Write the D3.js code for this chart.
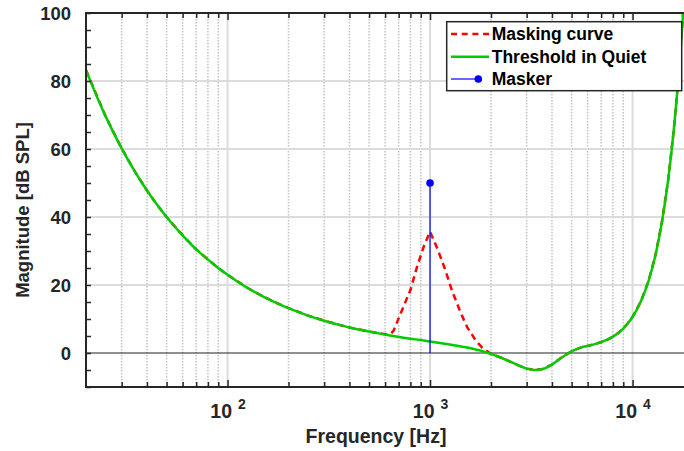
<!DOCTYPE html>
<html>
<head>
<meta charset="utf-8">
<script src="https://cdn.jsdelivr.net/npm/d3@7"></script>
<style>
  html, body { margin: 0; padding: 0; background: #fff; }
  svg { display: block; font-family: "Liberation Sans", Arial, Helvetica, sans-serif; font-weight: bold; }
</style>
</head>
<body>
<svg id="chart" width="684" height="451"></svg>
<script>
// ---- data ----
const freqHz = [20,25,30,35,40,45,50,60,70,80,90,100,125,150,175,200,250,300,350,400,500,600,700,800,900,1000,1250,1500,1750,2000,2250,2500,2750,3000,3300,3600,4000,4500,5000,5500,6000,6500,7000,7500,8000,8500,9000,9500,10000,11000,12000,13000,14000,15000,16000,16500,17000,17500,18000,18500];
const thresholdDb = [83.2,69.6,60.2,53.2,47.8,43.5,40.0,34.6,30.5,27.5,25.0,23.0,19.2,16.6,14.7,13.2,11.0,9.5,8.4,7.5,6.3,5.4,4.7,4.2,3.8,3.4,2.5,1.7,0.8,-0.3,-1.4,-2.6,-3.7,-4.6,-5.0,-4.7,-3.4,-1.2,0.5,1.5,2.1,2.6,3.2,3.9,4.8,5.9,7.2,8.8,10.6,15.2,21.2,29.0,38.9,51.0,65.9,74.5,83.9,94.2,105.3,117.1];

const maskFreqHz = [20,25,30,35,40,45,50,60,70,80,90,100,125,150,175,200,250,300,350,400,500,600,640,661,727,800,863,937,1000,1090,1190,1284,1411,1523,1674,1806,1950,2000,2250,2500,2750,3000,3300,3600,4000,4500,5000,5500,6000,6500,7000,7500,8000,8500,9000,9500,10000,11000,12000,13000,14000,15000,16000,16500,17000,17500,18000,18500];
const maskDb = [83.2,69.6,60.2,53.2,47.8,43.5,40.0,34.6,30.5,27.5,25.0,23.0,19.2,16.6,14.7,13.2,11.0,9.5,8.4,7.5,6.3,5.5,5.6,6.6,12.6,18.5,25.4,31.8,35.7,30.5,24.4,18.3,12.1,7.7,3.8,1.6,0.2,-0.3,-1.4,-2.6,-3.7,-4.6,-5.0,-4.7,-3.4,-1.2,0.5,1.5,2.1,2.6,3.2,3.9,4.8,5.9,7.2,8.8,10.6,15.2,21.2,29.0,38.9,51.0,65.9,74.5,83.9,94.2,105.3,117.1];

const maskerFreqHz = [1000];
const maskerDb = [50];

const xMajorTicks = [100, 1000, 10000];
const xMajorExponents = ["2", "3", "4"];
const xMinorTicks = [30,40,50,60,70,80,90,200,300,400,500,600,700,800,900,2000,3000,4000,5000,6000,7000,8000,9000];
const yLabelTicks = [0, 20, 40, 60, 80, 100];
const yGridTicks = [20, 40, 60, 80];
const yMinorTicks = [-10,-5,0,5,10,15,20,25,30,35,40,45,50,55,60,65,70,75,80,85,90,95,100];

const legendLabels = ["Masking curve", "Threshold in Quiet", "Masker"];

// ---- layout ----
const W = 684, H = 451;
const L = 86, R = 693.5, T = 13, B = 387;
const axisColor = "#262626";
const cRed = "#ff0000", cGreen = "#00cc00", cBlue = "#0000ff";

const svg = d3.select("#chart");
svg.append("rect").attr("width", W).attr("height", H).attr("fill", "#fff");

const x = d3.scaleLog().domain([20, 20000]).range([L, R]);
const y = d3.scaleLinear().domain([-10, 100]).range([B, T]);

svg.append("defs").append("clipPath").attr("id", "clip")
  .append("rect").attr("x", L).attr("y", T).attr("width", R - L).attr("height", B - T);

// ---- grid ----
const grid = svg.append("g");
grid.selectAll("line.minx").data(xMinorTicks).join("line")
  .attr("x1", d => x(d)).attr("x2", d => x(d)).attr("y1", T).attr("y2", B)
  .attr("stroke", "#c2c2c2").attr("stroke-width", 1.5).attr("stroke-dasharray", "1.5,1.5");
grid.selectAll("line.majx").data(xMajorTicks).join("line")
  .attr("x1", d => x(d)).attr("x2", d => x(d)).attr("y1", T).attr("y2", B)
  .attr("stroke", "#dcdcdc").attr("stroke-width", 2);
grid.selectAll("line.majy").data(yGridTicks).join("line")
  .attr("x1", L).attr("x2", R).attr("y1", d => y(d)).attr("y2", d => y(d))
  .attr("stroke", "#dcdcdc").attr("stroke-width", 2);

// zero line
svg.append("line").attr("x1", L).attr("x2", R).attr("y1", y(0)).attr("y2", y(0))
  .attr("stroke", "#222").attr("stroke-width", 1.2);

// ---- data lines ----
const plot = svg.append("g").attr("clip-path", "url(#clip)");

const maskLine = d3.line().x(d => x(d[0])).y(d => y(d[1])).curve(d3.curveLinear);
plot.append("path")
  .datum(maskFreqHz.map((f, i) => [f, maskDb[i]]))
  .attr("d", maskLine).attr("fill", "none").attr("stroke", cRed)
  .attr("stroke-width", 2.5).attr("stroke-dasharray", "6.5,4.5");

const thLine = d3.line().x(d => x(d[0])).y(d => y(d[1])).curve(d3.curveMonotoneX);
plot.append("path")
  .datum(freqHz.map((f, i) => [f, thresholdDb[i]]))
  .attr("d", thLine).attr("fill", "none").attr("stroke", cGreen)
  .attr("stroke-width", 2.5);

const masker = maskerFreqHz.map((f, i) => [f, maskerDb[i]]);
plot.selectAll("line.stem").data(masker).join("line")
  .attr("x1", d => x(d[0])).attr("x2", d => x(d[0]))
  .attr("y1", y(0)).attr("y2", d => y(d[1]))
  .attr("stroke", cBlue).attr("stroke-width", 1.2);
plot.selectAll("circle.mk").data(masker).join("circle")
  .attr("cx", d => x(d[0])).attr("cy", d => y(d[1])).attr("r", 3.8)
  .attr("fill", cBlue);

// ---- axes ----
function styleAxis(g) {
  g.select(".domain").remove();
  g.selectAll(".tick line").attr("stroke", axisColor).attr("stroke-width", 1.5);
}
svg.append("g").attr("transform", `translate(0,${B})`)
  .call(d3.axisBottom(x).tickValues(xMinorTicks).tickSizeInner(-5).tickSizeOuter(0).tickFormat(""))
  .call(styleAxis);
const gxMaj = svg.append("g").attr("transform", `translate(0,${B})`)
  .call(d3.axisBottom(x).tickValues(xMajorTicks).tickSizeInner(-7).tickSizeOuter(0).tickPadding(0)
    .tickFormat(""))
  .call(styleAxis);
gxMaj.selectAll(".tick text").remove();
gxMaj.selectAll(".tick").each(function(d, i) {
  const t = d3.select(this).append("text")
    .attr("x", 0).attr("y", 31.3).attr("text-anchor", "middle")
    .attr("fill", axisColor).attr("font-size", 19.5).attr("font-weight", "bold");
  t.append("tspan").text("10");
  t.append("tspan").attr("dx", 6).attr("dy", -9).attr("font-size", 14).text(xMajorExponents[i]);
});
svg.append("g").attr("transform", `translate(0,${T})`)
  .call(d3.axisTop(x).tickValues(xMinorTicks).tickSizeInner(-5).tickSizeOuter(0).tickFormat(""))
  .call(styleAxis);
svg.append("g").attr("transform", `translate(0,${T})`)
  .call(d3.axisTop(x).tickValues(xMajorTicks).tickSizeInner(-7).tickSizeOuter(0).tickFormat(""))
  .call(styleAxis);
svg.append("g").attr("transform", `translate(${L},0)`)
  .call(d3.axisLeft(y).tickValues(yMinorTicks).tickSizeInner(-5).tickSizeOuter(0).tickFormat(""))
  .call(styleAxis);
const gy = svg.append("g").attr("transform", `translate(${L},0)`)
  .call(d3.axisLeft(y).tickValues(yLabelTicks).tickSize(0).tickPadding(15).tickFormat(d3.format("d")))
  .call(styleAxis);
gy.selectAll(".tick text").attr("fill", axisColor).attr("font-size", 18.5)
  .attr("font-weight", "bold").attr("font-family", "Liberation Sans, Arial, sans-serif")
  .attr("dy", "0.35em");

svg.append("line").attr("x1", L).attr("x2", W).attr("y1", B).attr("y2", B)
  .attr("stroke", axisColor).attr("stroke-width", 2);
svg.append("line").attr("x1", L).attr("x2", W).attr("y1", T).attr("y2", T)
  .attr("stroke", axisColor).attr("stroke-width", 2);
svg.append("line").attr("x1", L).attr("x2", L).attr("y1", T - 1).attr("y2", B + 1)
  .attr("stroke", axisColor).attr("stroke-width", 2);

svg.append("text").attr("x", 376).attr("y", 443).attr("text-anchor", "middle")
  .attr("fill", axisColor).attr("font-size", 19.5).text("Frequency [Hz]");
svg.append("text").attr("transform", "translate(28.5,210) rotate(-90)").attr("text-anchor", "middle")
  .attr("fill", axisColor).attr("font-size", 18.5).text("Magnitude [dB SPL]");

// ---- legend ----
const lg = svg.append("g");
lg.append("rect").attr("x", 446.7).attr("y", 21.7).attr("width", 235).attr("height", 69)
  .attr("fill", "#fff").attr("stroke", axisColor).attr("stroke-width", 1.5);
const rows = [34, 56.7, 79];
lg.append("line").attr("x1", 451).attr("x2", 489).attr("y1", rows[0]).attr("y2", rows[0])
  .attr("stroke", cRed).attr("stroke-width", 2.5).attr("stroke-dasharray", "6,4.7");
lg.append("line").attr("x1", 451).attr("x2", 489).attr("y1", rows[1]).attr("y2", rows[1])
  .attr("stroke", cGreen).attr("stroke-width", 2.5);
lg.append("line").attr("x1", 451).attr("x2", 478.3).attr("y1", rows[2]).attr("y2", rows[2])
  .attr("stroke", cBlue).attr("stroke-width", 1.2);
lg.append("circle").attr("cx", 478.3).attr("cy", rows[2]).attr("r", 3.8).attr("fill", cBlue);
lg.selectAll("text.lab").data(legendLabels).join("text")
  .attr("x", 491.7).attr("y", (d, i) => rows[i] + 6.3)
  .attr("fill", "#000").attr("font-size", 17.5).text(d => d);
</script>
</body>
</html>
